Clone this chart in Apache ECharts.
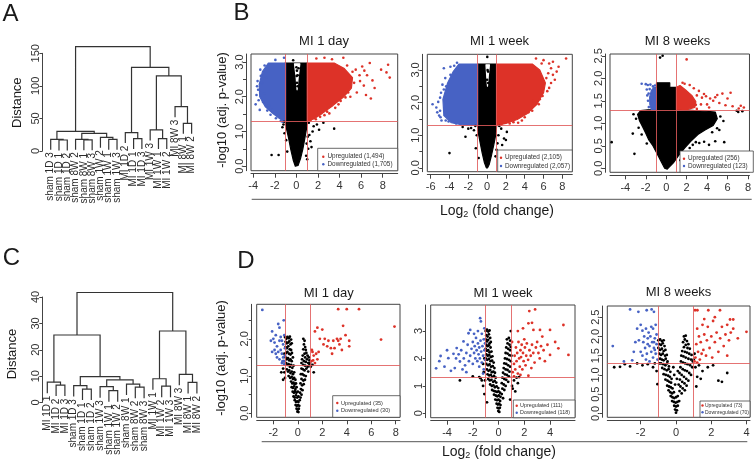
<!DOCTYPE html>
<html><head><meta charset="utf-8">
<script src="https://cdn.jsdelivr.net/npm/echarts@6.0.0/dist/echarts.min.js"></script>
<style>html,body{margin:0;padding:0;background:#fff;}#chart{width:754px;height:461px;}</style>
</head><body><div id="chart"></div>
<script>
// ================= DATA =================
// Dendrogram A (merge rows: [childA, childB, height]; negative = leaf number)
const dendroALeaves = ['sham 1D 3','sham 1D 1','sham 1D 2','sham 8W 2','sham 8W 1','sham 8W 3','sham 1W 2','sham 1W 1','sham 1W 3','MI 1D 2','MI 1D 1','MI 1D 3','MI 1W 3','MI 1W 1','MI 1W 2','MI 8W 3','MI 8W 1','MI 8W 2'];
const dendroAMerges = [[-2,-3,16.9],[-1,1,17.9],[-5,-6,17.0],[-4,3,18.0],[-8,-9,17.9],[-7,5,21.0],[4,6,27.2],[2,7,30.2],[-11,-12,19.0],[-10,9,28.2],[-14,-15,19.0],[-13,11,32.3],[-17,-18,42.5],[-16,13,68.0],[12,14,115.2],[10,15,128.5],[8,16,160.2]];
const dendroATicks = [0,50,100,150];
// Dendrogram C
const dendroCLeaves = ['MI 1D 1','MI 1D 2','MI 1D 3','sham 1D 3','sham 1D 1','sham 1D 2','sham 1W 3','sham 1W 1','sham 1W 2','sham 8W 1','sham 8W 2','sham 8W 3','MI 1W 1','MI 1W 2','MI 1W 3','MI 8W 3','MI 8W 1','MI 8W 2'];
const dendroCMerges = [[-2,-3,6.6],[-1,1,7.7],[-5,-6,5.1],[-4,3,6.4],[-8,-9,4.5],[-7,5,6.0],[-11,-12,5.8],[-10,7,7.0],[6,8,8.6],[4,9,9.8],[2,10,25.6],[-14,-15,6.2],[-13,12,9.0],[-17,-18,7.6],[-16,14,10.7],[13,15,27.1],[11,16,41.7]];
const dendroCTicks = [0,10,20,30,40];

// thresholds
const foldCut = [-1, 1];
const pCut = 1.3;

// ---- B1: MI 1 day (all genes) ----
const b1BlackArea = [[-1.05,2.97],[1.0,2.97],[1.02,1.3],[0.92,1.05],[0.78,0.8],[0.6,0.5],[0.38,0.22],[0.15,0.02],[-0.1,0.0],[-0.3,0.18],[-0.52,0.48],[-0.72,0.8],[-0.9,1.05],[-1.05,1.3]];
const b1Gap = [[-0.18,2.95],[0.32,2.95],[0.16,2.55],[0.06,2.2],[-0.02,2.55]];
const b1BlueArea = [[-1.0,2.97],[-2.6,2.97],[-3.15,2.72],[-3.45,2.35],[-3.4,2.0],[-2.9,1.72],[-2.2,1.52],[-1.6,1.38],[-1.2,1.3],[-1.0,1.3]];
const b1RedArea = [[1.0,2.97],[3.5,2.97],[4.4,2.82],[5.2,2.55],[5.1,2.25],[4.4,2.0],[3.4,1.75],[2.4,1.52],[1.6,1.36],[1.0,1.3]];
const b1Black = [[-2.3,0.32],[-1.65,0.32],[3.5,1.08],[1.9,1.2],[1.5,1.0],[1.3,0.72],[1.1,0.5],[1.2,0.9],[-1.2,1.2],[-1.1,0.95],[2.5,1.25],[1.6,1.15],[0.9,0.3],[-0.85,0.42],[1.0,0.2],[2.1,1.05],[1.4,0.55],[-1.3,1.12],[0.95,0.65],[0.0,2.85],[0.12,2.62],[0.05,2.75],[0.05,2.4],[0.2,2.82],[0.1,2.3],[0.02,2.6],[1.15,1.25],[-1.15,1.28],[1.05,0.85],[-0.95,0.75],[-0.3,3.05]];
const b1Blue = [[-3.7,2.05],[-3.78,1.78],[-3.6,2.45],[-3.35,2.78],[-2.95,2.9],[-3.55,2.2],[-3.4,1.62],[-3.1,1.85],[-2.7,1.6],[-2.4,1.48],[-1.9,1.38],[-1.45,1.3],[-1.15,3.12],[-1.95,3.06],[-2.8,2.55],[-3.2,2.4],[-3.0,2.1],[-2.55,1.75],[-3.5,1.9],[-3.3,2.6],[-3.65,2.3],[-2.2,1.62],[-1.7,1.45],[-1.3,1.28]];
const b1Red = [[8.5,2.92],[8.35,2.7],[8.65,2.55],[7.85,2.78],[6.8,2.97],[6.1,2.87],[6.55,2.62],[7.05,2.47],[6.25,2.32],[5.85,2.62],[5.6,2.12],[6.9,1.95],[5.35,2.4],[4.8,2.12],[4.1,1.88],[3.6,1.68],[2.85,1.57],[2.2,1.42],[1.85,3.1],[2.6,3.12],[3.3,3.08],[4.35,3.12],[5.5,2.78],[7.25,2.25],[6.45,2.05],[4.55,1.98],[3.05,1.52],[1.8,1.35],[5.9,2.45],[5.2,2.72],[4.7,2.9],[6.3,2.75],[5.0,2.0],[3.9,1.78],[1.3,1.32],[2.6,1.47]];

// ---- B2: MI 1 week (all genes) ----
const b2BlackArea = [[-1.0,3.18],[1.0,3.18],[1.02,1.3],[0.92,1.02],[0.72,0.72],[0.48,0.4],[0.22,0.1],[0.05,0.0],[-0.08,0.0],[-0.28,0.15],[-0.52,0.45],[-0.76,0.8],[-0.95,1.1],[-1.02,1.3]];
const b2Gap = [[-0.12,3.16],[0.25,3.16],[0.12,2.8],[0.04,2.5],[-0.04,2.8]];
const b2BlueArea = [[-1.0,3.18],[-3.0,3.18],[-3.6,2.95],[-4.2,2.6],[-4.7,2.1],[-4.6,1.6],[-3.8,1.38],[-2.5,1.31],[-1.0,1.3]];
const b2RedArea = [[1.0,3.18],[4.8,3.18],[5.6,3.0],[6.2,2.6],[6.0,2.3],[5.3,1.95],[4.2,1.65],[3.2,1.48],[2.0,1.36],[1.0,1.3]];
const b2Black = [[-4.0,0.45],[-2.3,0.95],[-2.6,1.25],[1.5,1.2],[1.1,0.75],[-1.4,1.15],[1.8,0.9],[1.3,0.5],[-1.2,0.6],[2.1,1.1],[1.2,1.0],[-1.7,1.22],[0.9,0.35],[-0.9,0.3],[1.6,0.7],[-1.1,1.0],[2.0,0.85],[0.02,3.4],[0.1,2.95],[0.0,2.7],[0.12,2.6],[0.05,3.0],[-1.25,1.28],[1.3,1.28],[-2.0,1.2],[1.0,0.55]];
const b2Blue = [[-4.6,3.05],[-5.8,1.95],[-5.2,2.02],[-5.0,1.75],[-4.9,2.3],[-4.45,2.75],[-3.9,3.1],[-3.5,3.13],[-5.1,1.6],[-4.85,1.45],[-4.4,1.45],[-4.35,2.5],[-3.2,3.22],[-5.4,1.85],[-3.3,1.36],[-2.0,1.32],[-4.75,2.55],[-5.3,1.7],[-4.95,1.55],[-3.9,2.85],[-4.1,1.42],[-2.8,1.34],[-5.0,2.15],[-4.6,2.4]];
const b2Red = [[8.4,3.35],[7.0,3.25],[6.6,3.2],[5.2,3.35],[6.5,2.9],[7.0,2.85],[6.8,2.6],[7.2,2.7],[6.6,2.45],[5.6,2.1],[4.8,1.75],[3.7,1.45],[2.8,1.4],[6.8,3.05],[7.6,3.1],[5.9,2.2],[4.9,2.05],[6.3,2.75],[4.0,1.55],[3.3,1.38],[6.0,3.3],[7.4,2.95],[6.4,2.35],[5.5,1.95],[4.4,1.7],[2.4,1.36],[5.8,3.2],[1.5,1.32]];

// ---- B3: MI 8 weeks (all genes) ----
const b3BlackArea = [[-1.0,1.3],[-1.0,1.8],[-0.95,1.8],[-0.95,1.9],[0.35,1.9],[0.35,1.8],[1.0,1.8],[1.0,1.3],[1.9,1.3],[2.8,1.28],[3.8,1.27],[4.8,1.25],[5.0,1.1],[4.6,0.95],[3.8,0.85],[3.1,0.75],[2.4,0.6],[1.8,0.45],[1.2,0.28],[0.7,0.12],[0.1,-0.02],[-0.15,0.0],[-0.5,0.15],[-0.9,0.33],[-1.3,0.5],[-1.7,0.63],[-2.0,0.78],[-2.3,0.92],[-2.6,1.05],[-2.8,1.2],[-2.5,1.28],[-1.8,1.3]];
const b3BlueArea = [[-1.0,1.3],[-1.0,1.78],[-1.2,1.8],[-1.45,1.73],[-1.62,1.58],[-1.6,1.42],[-1.45,1.3]];
const b3RedArea = [[1.0,1.3],[1.0,1.8],[1.35,1.84],[1.9,1.74],[2.5,1.62],[2.9,1.48],[2.8,1.35],[2.1,1.31]];
const b3Black = [[-5.34,0.58],[-3.11,0.32],[-3.27,0.77],[3.24,0.56],[3.71,0.59],[4.19,0.52],[4.98,0.89],[5.68,0.58],[2.6,0.52],[2.9,0.58],[2.3,0.45],[1.6,0.3],[1.4,0.18],[-0.6,2.46],[-0.35,2.5],[6.9,1.28],[7.05,1.25],[7.45,1.27],[5.3,1.15],[5.6,1.05],[-2.95,1.1],[-3.2,1.2],[-2.7,0.9],[4.5,0.8],[4.8,0.6],[5.2,0.85],[-2.4,0.75],[-1.9,0.55],[2.0,0.35]];
const b3Blue = [[-2.4,1.88],[-2.0,1.87],[-1.8,1.85],[-1.55,1.86],[-1.3,1.82],[-1.72,1.66],[-1.78,1.5],[-1.7,1.36],[-1.62,1.76],[-1.9,1.75],[-1.85,1.62],[-1.1,1.84]];
const b3Red = [[2.0,2.42],[1.6,1.9],[2.3,1.85],[3.0,1.62],[3.5,1.57],[3.9,1.6],[4.3,1.55],[4.8,1.58],[5.0,1.63],[5.5,1.66],[6.0,1.55],[6.5,1.38],[7.1,1.33],[7.3,1.39],[7.6,1.35],[5.2,1.45],[4.0,1.42],[3.4,1.42],[3.7,1.65],[4.6,1.5],[6.3,1.68],[2.9,1.41],[3.2,1.72],[2.7,1.78],[4.2,1.35],[5.8,1.4],[3.0,1.32],[1.8,1.88]];

// ---- D1: MI 1 day (subset) ----
const d1Black = [[-1.05,2.05],[-0.95,2.0],[-0.85,2.05],[-0.75,2.02],[-0.65,2.06],[-0.55,1.98],[-1.0,1.92],[-0.9,1.88],[-0.8,1.9],[-0.7,1.93],[-0.6,1.85],[-0.5,1.88],[-1.0,1.78],[-0.9,1.75],[-0.78,1.8],[-0.66,1.72],[-0.55,1.7],[-0.95,1.62],[-0.85,1.65],[-0.72,1.6],[-0.6,1.58],[-0.48,1.62],
 [-1.0,1.5],[-0.9,1.45],[-0.8,1.48],[-0.7,1.42],[-0.6,1.45],[-0.5,1.4],[-0.4,1.5],[-0.95,1.35],[-0.85,1.3],[-0.75,1.32],[-0.65,1.25],[-0.55,1.3],[-0.45,1.22],[-0.35,1.28],[-0.9,1.18],[-0.8,1.12],[-0.7,1.15],[-0.6,1.08],[-0.5,1.12],[-0.4,1.05],[-0.3,1.1],[-0.75,1.0],[-0.62,0.95],[-0.5,0.98],[-0.4,0.92],[-0.3,0.95],[-0.2,0.9],
 [-0.55,0.85],[-0.45,0.8],[-0.35,0.82],[-0.25,0.78],[-0.15,0.8],[-0.5,0.7],[-0.4,0.68],[-0.3,0.72],[-0.2,0.65],[-0.1,0.7],[-0.42,0.58],[-0.32,0.55],[-0.22,0.6],[-0.12,0.55],[0.0,0.58],[-0.35,0.45],[-0.25,0.42],[-0.15,0.48],[-0.05,0.42],[0.05,0.45],
 [-0.25,0.35],[-0.15,0.3],[-0.05,0.32],[0.05,0.3],[0.15,0.35],[-0.18,0.22],[-0.08,0.2],[0.02,0.22],[0.12,0.2],[-0.1,0.12],[0.0,0.1],[0.08,0.12],[-0.03,0.04],[0.05,0.03],
 [0.45,2.0],[0.55,1.95],[0.5,1.85],[0.6,1.78],[0.65,1.7],[0.45,1.72],[0.7,1.62],[0.55,1.6],[0.8,1.55],[0.9,1.5],[0.4,1.55],[0.6,1.5],[0.75,1.45],[0.95,1.42],[0.35,1.45],[0.5,1.4],[0.65,1.38],[0.85,1.35],[0.3,1.35],[0.45,1.3],[0.6,1.28],[0.8,1.25],[0.95,1.3],[0.3,1.2],[0.42,1.18],[0.55,1.15],[0.7,1.2],[0.85,1.12],[0.25,1.05],[0.38,1.05],[0.5,1.02],[0.65,1.0],[0.3,0.92],[0.45,0.88],[0.58,0.9],[0.22,0.8],[0.35,0.75],[0.48,0.78],[0.25,0.65],[0.38,0.62],[0.18,0.55],[0.3,0.5],[0.22,0.42],
 [-1.1,1.1],[-1.2,1.2],[-1.05,0.95],[-1.35,1.1],[1.3,1.1],[1.2,1.3],[1.05,1.25],[1.0,1.35],[-1.15,1.4],[-1.1,1.6],[-1.2,0.9]];
const d1Blue = [[-2.9,2.78],[-1.8,2.1],[-2.0,2.0],[-1.9,1.9],[-2.1,2.2],[-1.6,2.4],[-1.5,2.3],[-1.7,1.8],[-1.5,1.95],[-1.3,1.95],[-1.2,1.85],[-2.1,1.65],[-1.8,1.6],[-1.6,1.65],[-1.4,1.7],[-1.3,1.6],[-1.5,1.45],[-1.2,1.5],[-1.1,1.4],[-1.3,1.35],[-1.1,2.1],[-1.15,2.5],[-1.05,1.75],[-1.4,2.05],[-1.7,1.5],[-1.9,1.7],[-1.25,1.4],[-1.05,1.55],[-2.2,1.95],[-1.1,1.32]];
const d1Red = [[1.2,1.65],[1.3,1.55],[1.5,1.6],[1.6,1.45],[1.7,1.65],[1.25,1.42],[1.4,2.2],[1.6,2.3],[2.0,2.25],[2.2,2.0],[2.1,1.85],[2.4,1.8],[2.5,1.95],[2.7,1.75],[2.9,1.95],[3.0,1.75],[3.2,2.0],[3.3,1.95],[3.4,1.85],[3.6,1.7],[3.7,2.35],[3.9,2.1],[3.3,2.8],[4.0,2.8],[5.0,2.8],[4.2,1.95],[4.2,1.8],[6.8,1.98],[7.9,2.33],[1.1,1.4],[1.15,1.7],[1.8,2.0],[2.8,1.6],[3.5,2.0],[1.4,1.35]];

// ---- D2: MI 1 week (subset) ----
const d2Black = [[-1.0,3.0],[-0.9,3.05],[-0.8,2.98],[-0.7,3.02],[-0.95,2.85],[-0.85,2.8],[-0.75,2.88],[-0.65,2.75],[-1.0,2.7],[-0.9,2.62],[-0.8,2.68],[-0.7,2.55],[-0.6,2.6],[-0.95,2.5],[-0.85,2.45],[-0.75,2.48],[-0.62,2.4],
 [-1.0,2.35],[-0.9,2.28],[-0.8,2.3],[-0.7,2.22],[-0.55,2.25],[-0.95,2.15],[-0.85,2.1],[-0.72,2.12],[-0.6,2.05],[-0.48,2.08],[-1.0,2.0],[-0.88,1.95],[-0.75,1.98],[-0.62,1.9],[-0.5,1.92],[-0.38,1.85],[-0.95,1.8],[-0.82,1.75],[-0.7,1.78],[-0.58,1.7],[-0.45,1.72],[-0.32,1.65],[-0.9,1.6],[-0.78,1.55],[-0.65,1.58],[-0.52,1.5],[-0.4,1.52],[-0.28,1.48],
 [-0.85,1.42],[-0.72,1.38],[-0.6,1.4],[-0.48,1.33],[-0.35,1.36],[-0.22,1.3],[-0.8,1.25],[-0.68,1.2],[-0.55,1.22],[-0.42,1.15],[-0.3,1.18],[-0.18,1.12],[-0.65,1.05],[-0.52,1.0],[-0.4,1.02],[-0.28,0.95],[-0.15,0.98],[-0.02,0.92],[-0.5,0.85],[-0.38,0.82],[-0.25,0.8],[-0.12,0.78],[0.0,0.8],[0.12,0.75],[-0.35,0.68],[-0.22,0.65],[-0.1,0.62],[0.02,0.65],[0.15,0.6],
 [-0.25,0.5],[-0.12,0.48],[0.0,0.5],[0.12,0.45],[-0.15,0.35],[-0.05,0.32],[0.05,0.35],[0.15,0.3],[-0.08,0.2],[0.02,0.18],[0.1,0.2],[-0.02,0.08],[0.06,0.05],
 [0.65,2.7],[0.8,2.75],[0.9,2.65],[0.7,2.55],[0.85,2.5],[0.95,2.42],[0.6,2.4],[0.75,2.35],[0.9,2.3],[0.55,2.2],[0.7,2.18],[0.85,2.12],[1.0,2.1],[0.5,2.0],[0.65,1.98],[0.8,1.95],[0.95,1.9],[0.45,1.82],[0.6,1.8],[0.75,1.75],[0.9,1.7],[0.4,1.65],[0.55,1.6],[0.7,1.58],[0.85,1.52],[0.35,1.48],[0.5,1.42],[0.65,1.4],[0.8,1.35],[0.3,1.3],[0.45,1.25],[0.6,1.22],[0.75,1.15],[0.25,1.1],[0.4,1.05],[0.55,1.0],[0.3,0.9],[0.45,0.85],[0.25,0.7],[0.35,0.55],
 [-3.0,1.2],[-2.0,1.35],[-1.5,1.32],[-1.3,1.2],[-1.2,1.0],[-1.1,0.7],[1.2,1.2],[1.4,1.3],[1.1,0.9],[1.5,1.1],[0.9,0.5],[-0.9,0.4],[1.3,0.8],[-1.4,1.28],[1.6,1.32],[-1.15,1.5],[-1.1,2.0],[-1.2,1.8],[0.95,3.0],[1.05,1.0],[-1.05,1.2]];
const d2Blue = [[-4.85,1.64],[-4.5,2.09],[-3.9,2.01],[-3.5,2.17],[-3.25,2.38],[-3.0,1.89],[-2.72,2.62],[-2.33,2.92],[-2.2,3.04],[-1.43,3.47],[-1.37,3.35],[-4.6,1.9],[-4.2,1.7],[-3.7,1.55],[-3.3,2.0],[-3.1,2.15],[-2.9,2.3],[-2.7,2.0],[-2.6,1.75],[-2.5,2.2],[-2.4,2.5],[-2.3,1.9],[-2.2,2.1],[-2.1,2.35],[-2.0,2.6],[-2.0,1.8],[-1.9,2.2],[-1.85,2.45],[-1.8,2.0],[-1.75,2.75],[-1.7,2.3],[-1.65,1.9],[-1.6,2.55],[-1.55,2.15],[-1.5,2.4],[-1.5,1.7],[-1.45,2.0],[-1.4,2.65],[-1.35,2.25],[-1.3,1.85],[-1.3,2.9],[-1.25,2.45],[-1.2,2.1],[-1.15,1.6],[-1.15,2.7],[-1.1,2.3],[-1.05,1.95],[-1.05,2.55],[-2.8,1.6],[-3.4,1.65],[-1.6,3.0],[-1.9,2.9],[-2.5,1.5],[-1.2,1.45],[-1.1,3.1],[-4.0,2.3]];
const d2Red = [[2.39,3.73],[2.84,3.79],[2.32,3.28],[2.71,3.04],[3.22,3.04],[4.0,3.04],[5.04,3.22],[4.65,2.37],[5.43,2.13],[4.0,2.13],[2.32,1.37],[1.1,1.5],[1.2,1.8],[1.25,2.1],[1.3,1.6],[1.35,2.4],[1.4,1.9],[1.45,2.2],[1.5,1.45],[1.55,2.6],[1.6,2.0],[1.65,1.7],[1.7,2.3],[1.75,2.05],[1.8,2.5],[1.85,1.6],[1.9,2.2],[1.95,1.9],[2.0,2.7],[2.05,2.4],[2.1,1.75],[2.15,2.1],[2.2,2.55],[2.3,1.95],[2.4,2.3],[2.5,2.1],[2.55,1.65],[2.6,2.5],[2.7,2.2],[2.8,1.85],[2.9,2.4],[3.0,2.6],[3.1,2.2],[3.2,2.0],[3.3,2.45],[3.5,2.3],[3.6,1.9],[3.8,2.5],[1.2,1.35],[1.05,2.6],[1.5,3.0],[1.9,3.1],[3.4,2.8],[1.7,1.4],[4.4,2.6],[2.6,3.3]];

// ---- D3: MI 8 weeks (subset) ----
const d3Black = [[-1.0,1.9],[-0.9,1.92],[-0.8,1.88],[-0.7,1.9],[-0.95,1.8],[-0.85,1.78],[-0.75,1.82],[-0.65,1.75],[-1.0,1.7],[-0.9,1.65],[-0.8,1.68],[-0.7,1.62],[-0.6,1.65],[-0.95,1.55],[-0.85,1.52],[-0.75,1.55],[-0.62,1.5],[-0.52,1.52],[-0.9,1.42],[-0.8,1.4],[-0.7,1.38],[-0.58,1.42],[-0.48,1.35],[-0.85,1.3],[-0.72,1.28],[-0.6,1.25],[-0.5,1.3],[-0.4,1.22],[-0.78,1.18],[-0.65,1.15],[-0.52,1.12],[-0.42,1.15],[-0.32,1.08],
 [-0.7,1.02],[-0.58,1.0],[-0.45,0.98],[-0.35,0.95],[-0.25,0.9],[-0.6,0.88],[-0.48,0.85],[-0.38,0.82],[-0.28,0.8],[-0.5,0.72],[-0.4,0.7],[-0.3,0.68],[-0.2,0.65],[-0.42,0.6],[-0.32,0.55],[-0.22,0.52],[-0.12,0.55],
 [-0.3,0.45],[-0.2,0.42],[-0.1,0.4],[0.0,0.42],[0.1,0.45],[-0.22,0.32],[-0.12,0.3],[-0.02,0.28],[0.08,0.3],[0.18,0.32],[-0.1,0.2],[0.0,0.18],[0.1,0.2],[-0.05,0.1],[0.05,0.08],[0.0,0.02],
 [0.45,2.0],[0.55,2.02],[0.5,1.92],[0.62,1.88],[0.4,1.85],[0.7,1.8],[0.55,1.78],[0.45,1.72],[0.65,1.7],[0.78,1.68],[0.35,1.62],[0.5,1.6],[0.62,1.58],[0.75,1.55],[0.88,1.52],[0.3,1.5],[0.42,1.48],[0.55,1.45],[0.7,1.42],[0.85,1.4],[0.95,1.35],[0.28,1.35],[0.4,1.32],[0.52,1.3],[0.65,1.28],[0.8,1.25],[0.92,1.2],[0.25,1.2],[0.38,1.15],[0.5,1.12],[0.62,1.1],[0.75,1.05],[0.85,1.0],[0.2,1.05],[0.32,1.0],[0.45,0.95],[0.58,0.9],[0.7,0.85],[0.22,0.88],[0.35,0.82],[0.48,0.78],[0.6,0.72],[0.25,0.7],[0.38,0.65],[0.5,0.6],[0.2,0.58],[0.32,0.52],
 [-0.1,1.0],[0.05,0.9],[0.1,1.1],[-0.15,1.2],[0.15,0.75],[-0.05,0.75],
 [-3.5,1.2],[-3.17,1.21],[-2.9,1.28],[-2.6,1.22],[-2.2,1.3],[-1.9,1.25],[-1.6,1.28],[-1.3,1.2],[-1.2,1.3],[-1.1,1.1],[-1.05,0.76],[1.1,1.2],[1.3,1.25],[1.5,1.1],[1.8,1.2],[2.1,1.25],[2.4,0.85],[2.9,1.05],[2.6,0.82],[1.2,0.95],[1.0,1.4],[1.05,1.55],[-0.95,1.3],[1.15,0.7],[1.4,0.9]];
const d3Blue = [[-3.58,1.75],[-2.6,2.70],[-2.13,2.64],[-1.66,2.68],[-1.38,2.70],[-1.25,2.64],[-2.39,1.6],[-2.48,1.38],[-2.95,1.35],[-2.2,2.2],[-2.1,1.9],[-2.0,1.6],[-1.9,2.15],[-1.85,1.85],[-1.8,2.0],[-1.75,1.7],[-1.7,2.2],[-1.65,1.55],[-1.6,1.95],[-1.55,2.1],[-1.5,1.75],[-1.45,2.0],[-1.4,1.6],[-1.35,1.85],[-1.3,2.2],[-1.3,1.45],[-1.25,1.7],[-1.2,1.95],[-1.15,1.55],[-1.1,1.8],[-1.1,2.05],[-1.05,1.4],[-2.3,1.85],[-2.0,2.3],[-1.7,1.4],[-1.5,1.35],[-1.2,1.65],[-1.9,1.5],[-1.6,1.8],[-1.4,2.25],[-1.25,1.85],[-1.15,2.3]];
const d3Red = [[1.08,2.68],[1.21,2.68],[1.83,2.68],[2.49,2.68],[3.06,2.44],[3.24,2.44],[3.99,2.12],[3.24,2.2],[1.1,1.45],[1.15,1.8],[1.2,2.2],[1.25,1.6],[1.3,2.0],[1.35,1.4],[1.4,1.85],[1.5,2.3],[1.55,1.65],[1.6,2.05],[1.7,1.5],[1.75,1.9],[1.8,2.25],[1.9,1.7],[2.0,2.0],[2.05,1.45],[2.1,2.4],[2.2,1.85],[2.3,2.1],[2.4,1.6],[2.5,1.95],[2.6,2.25],[2.7,1.75],[2.8,2.05],[2.9,1.5],[3.0,1.9],[3.1,2.1],[2.2,2.5],[1.6,2.45],[1.05,1.35],[1.2,1.32],[2.9,2.3],[3.5,1.95],[1.45,1.55]];

// legend counts
const legendB = [['Upregulated (1,494)','Downregulated (1,705)'],['Upregulated (2,105)','Downregulated (2,057)'],['Upregulated (256)','Downregulated (123)']];
const legendD = [['Upregulated (35)','Downregulated (30)'],['Upregulated (111)','Downregulated (118)'],['Upregulated (73)','Downregulated (70)']];

// ================= RENDER =================
const FONT = '"Liberation Sans", Arial, Helvetica, sans-serif';
const RED = '#dd3228', BLUE = '#4762c4', BLACK = '#000000', REF = '#e05a5a', AXIS = '#444', TXT = '#2a2a2a';
const grids = [], xAxes = [], yAxes = [], series = [], graphics = [];

function addDendro(cfg) {
  const gi = grids.length;
  grids.push({left: cfg.left, top: cfg.top, width: cfg.width, height: cfg.height, show: false});
  xAxes.push({type: 'value', gridIndex: gi, min: cfg.xmin, max: cfg.xmax, show: false});
  const t = cfg.ticks;
  yAxes.push({type: 'value', gridIndex: gi, min: t[0], max: t[t.length - 1], interval: t[1] - t[0],
    axisLine: {show: true, lineStyle: {color: AXIS, width: 1}},
    axisTick: {show: true, length: 3, lineStyle: {color: AXIS}},
    axisLabel: {rotate: 90, margin: 1, fontSize: 11, color: '#333', fontFamily: FONT},
    splitLine: {show: false}});
  const leaves = cfg.leaves, merges = cfg.merges;
  const nodes = [];
  merges.forEach(m => {
    const xa = m[0] < 0 ? -m[0] : nodes[m[0] - 1].x;
    const xb = m[1] < 0 ? -m[1] : nodes[m[1] - 1].x;
    nodes.push({x: (xa + xb) / 2, h: m[2]});
  });
  const hang = 0.1 * Math.max(...merges.map(m => m[2]));
  series.push({type: 'custom', xAxisIndex: gi, yAxisIndex: gi, silent: true, animation: false,
    data: nodes.map(n => [n.x, n.h]),
    renderItem: (params, api) => {
      const m = merges[params.dataIndex];
      const h = m[2];
      const ch = [m[0], m[1]].map(c => c < 0 ? {x: -c, y: h - hang, leaf: -c - 1} : {x: nodes[c - 1].x, y: nodes[c - 1].h, leaf: -1});
      const pa = api.coord([ch[0].x, ch[0].y]);
      const pa2 = api.coord([ch[0].x, h]);
      const pb2 = api.coord([ch[1].x, h]);
      const pb = api.coord([ch[1].x, ch[1].y]);
      const els = [{type: 'polyline', shape: {points: [pa, pa2, pb2, pb]}, style: {stroke: '#333', lineWidth: 1.2, fill: 'none'}}];
      ch.forEach((c, k) => {
        if (c.leaf >= 0) {
          const p = k === 0 ? pa : pb;
          els.push({type: 'text', x: p[0], y: p[1] + 2.5, rotation: Math.PI / 2,
            style: {text: leaves[c.leaf], fill: TXT, fontSize: cfg.fs, fontFamily: FONT, align: 'right', verticalAlign: 'middle'}});
        }
      });
      return {type: 'group', children: els};
    }});
}

function areaSeries(gi, pts, color) {
  return {type: 'custom', xAxisIndex: gi, yAxisIndex: gi, silent: true, animation: false, z: 2, data: pts,
    renderItem: (params, api) => params.dataIndex === 0 ? {type: 'polygon',
      shape: {points: pts.map(p => api.coord(p))},
      style: {fill: color, stroke: color, lineWidth: 1.2, lineJoin: 'round'}} : null};
}
function dots(gi, pts, color, size) {
  return {type: 'scatter', xAxisIndex: gi, yAxisIndex: gi, data: pts, symbolSize: size, silent: true, animation: false, z: 2,
    itemStyle: {color: color, opacity: 1}};
}

function addVolcano(p) {
  const gi = grids.length;
  grids.push({left: p.box[0], top: p.box[1], width: p.box[2], height: p.box[3], show: true, borderColor: '#444', borderWidth: 1, backgroundColor: 'rgba(0,0,0,0)'});
  xAxes.push({type: 'value', gridIndex: gi, min: p.xr[0], max: p.xr[1], offset: 3,
    axisLine: {show: true, onZero: false, lineStyle: {color: AXIS}},
    axisTick: {show: true, length: 4, customValues: p.xt, lineStyle: {color: AXIS}},
    axisLabel: {customValues: p.xt, margin: 7, fontSize: 11, color: '#333', fontFamily: FONT},
    splitLine: {show: false}});
  yAxes.push({type: 'value', gridIndex: gi, min: p.yr[0], max: p.yr[1], offset: 5,
    axisLine: {show: true, onZero: false, lineStyle: {color: AXIS}},
    axisTick: {show: true, length: 3, customValues: p.yt, lineStyle: {color: AXIS}},
    axisLabel: {customValues: p.yl, rotate: 90, margin: 1, fontSize: 11, color: '#333', fontFamily: FONT,
      formatter: v => p.ydec ? Number(v).toFixed(1) : String(v)},
    splitLine: {show: false}});
  (p.blackAreas || []).forEach(a => series.push(areaSeries(gi, a, BLACK)));
  if (p.gap) series.push(areaSeries(gi, p.gap, '#ffffff'));
  series.push(dots(gi, p.black, BLACK, p.ps));
  if (p.blueArea) series.push(areaSeries(gi, p.blueArea, BLUE));
  series.push(dots(gi, p.blue, BLUE, p.ps));
  if (p.redArea) series.push(areaSeries(gi, p.redArea, RED));
  series.push(dots(gi, p.red, RED, p.ps));
  // reference lines on top
  series.push({type: 'scatter', xAxisIndex: gi, yAxisIndex: gi, data: [], z: 6, silent: true, animation: false,
    markLine: {silent: true, animation: false, symbol: ['none', 'none'], label: {show: false}, z: 6,
      lineStyle: {color: REF, width: 1, type: 'solid', opacity: 0.85},
      data: [{xAxis: foldCut[0]}, {xAxis: foldCut[1]}, {yAxis: pCut}]}});
  const L = p.legend;
  graphics.push({type: 'rect', z: 100, shape: {x: L.box[0], y: L.box[1], width: L.box[2], height: L.box[3]}, style: {fill: '#fff', stroke: '#444', lineWidth: 0.8}});
  [[RED, L.text[0], L.y[0]], [BLUE, L.text[1], L.y[1]]].forEach(([c, t, y]) => {
    graphics.push({type: 'circle', z: 101, shape: {cx: L.dotX, cy: y, r: 1.2}, style: {fill: c}});
    graphics.push({type: 'text', z: 101, x: L.textX, y: y, style: {text: t, fill: '#333', fontSize: L.fs, fontFamily: FONT, align: 'left', verticalAlign: 'middle'}});
  });
}

addDendro({left: 42, top: 53.3, width: 158, height: 97.7, xmin: -0.05, xmax: 19.01, ticks: dendroATicks, leaves: dendroALeaves, merges: dendroAMerges, fs: 10});
addDendro({left: 42.3, top: 297, width: 163.4, height: 105.5, xmin: 0.432, xmax: 19.0, ticks: dendroCTicks, leaves: dendroCLeaves, merges: dendroCMerges, fs: 10});

const stepsB = [0, 0.5, 1, 1.5, 2, 2.5, 3];
addVolcano({box: [251, 54, 146.7, 116.7], xr: [-4.21, 9.39], yr: [-0.13, 3.23], xt: [-4, -2, 0, 2, 4, 6, 8], yt: stepsB, yl: [0, 1, 2, 3], ydec: true, ps: 2.6,
  blackAreas: [b1BlackArea], gap: b1Gap, blueArea: b1BlueArea, redArea: b1RedArea, black: b1Black, blue: b1Blue, red: b1Red,
  legend: {box: [317.7, 148.3, 80, 22.4], dotX: 323.3, textX: 327.5, y: [156.7, 164.3], fs: 6.4, text: legendB[0]}});
addVolcano({box: [427.3, 54.3, 145, 117.4], xr: [-6.36, 9.06], yr: [-0.12, 3.48], xt: [-6, -4, -2, 0, 2, 4, 6, 8], yt: stepsB, yl: [0, 1, 2, 3], ydec: true, ps: 2.6,
  blackAreas: [b2BlackArea], gap: b2Gap, blueArea: b2BlueArea, redArea: b2RedArea, black: b2Black, blue: b2Blue, red: b2Red,
  legend: {box: [497.7, 150, 74.6, 21.7], dotX: 501, textX: 505, y: [157.7, 166], fs: 6.4, text: legendB[1]}});
addVolcano({box: [610, 54, 143.3, 118.3], xr: [-5.5, 8.15], yr: [-0.09, 2.54], xt: [-4, -2, 0, 2, 4, 6, 8], yt: [0, 0.5, 1, 1.5, 2, 2.5], yl: [0, 0.5, 1, 1.5, 2, 2.5], ydec: true, ps: 2.6,
  blackAreas: [b3BlackArea], blueArea: b3BlueArea, redArea: b3RedArea, black: b3Black, blue: b3Blue, red: b3Red,
  legend: {box: [680, 151, 73.3, 21.3], dotX: 684, textX: 688, y: [158.7, 166], fs: 6.4, text: legendB[2]}});
addVolcano({box: [256.7, 304.3, 143.3, 113], xr: [-3.36, 8.35], yr: [-0.11, 2.93], xt: [-2, 0, 2, 4, 6, 8], yt: [0, 0.5, 1, 1.5, 2, 2.5], yl: [0, 1, 2], ydec: true, ps: 2.8,
  black: d1Black, blue: d1Blue, red: d1Red,
  legend: {box: [332.7, 395.7, 67.3, 21.6], dotX: 337.3, textX: 341, y: [403, 410.7], fs: 5.6, text: legendD[0]}});
addVolcano({box: [430.7, 305, 144.3, 112.7], xr: [-5.27, 5.94], yr: [-0.16, 3.95], xt: [-4, -2, 0, 2, 4], yt: [0, 1, 2, 3], yl: [0, 1, 2, 3], ydec: false, ps: 2.8,
  black: d2Black, blue: d2Blue, red: d2Red,
  legend: {box: [513.3, 400, 61.7, 17.7], dotX: 516.7, textX: 520, y: [405.7, 412.7], fs: 5.4, text: legendD[1]}});
addVolcano({box: [607.3, 306, 142.7, 111.3], xr: [-3.89, 4.19], yr: [-0.10, 2.79], xt: [-2, 0, 2, 4], yt: [0, 0.5, 1, 1.5, 2, 2.5], yl: [0, 0.5, 1, 1.5, 2, 2.5], ydec: true, ps: 2.8,
  black: d3Black, blue: d3Blue, red: d3Red,
  legend: {box: [700, 401, 50, 16.3], dotX: 702.5, textX: 705, y: [405.5, 412.3], fs: 5, text: legendD[2]}});

// texts
function txt(t, x, y, fs, rot, extra) {
  const e = {type: 'text', x: x, y: y, z: 50, style: Object.assign({text: t, fill: '#1a1a1a', fontSize: fs, fontFamily: FONT, align: 'center', verticalAlign: 'middle'}, extra || {})};
  if (rot) e.rotation = rot;
  graphics.push(e);
}
txt('A', 10.5, 14, 24); txt('B', 241.5, 13.5, 24); txt('C', 11.5, 258.5, 24); txt('D', 246, 261.5, 24);
txt('MI 1 day', 324, 41.7, 13); txt('MI 1 week', 499.5, 41.7, 13); txt('MI 8 weeks', 677.5, 41, 13);
txt('MI 1 day', 328.7, 293, 13); txt('MI 1 week', 503, 293, 13); txt('MI 8 weeks', 678.5, 292.7, 13);
txt('Distance', 17.5, 102.7, 13, Math.PI / 2); txt('Distance', 12.5, 354, 13, Math.PI / 2);
txt('-log10 (adj. p-value)', 222.5, 110, 13, Math.PI / 2); txt('-log10 (adj. p-value)', 221.5, 358, 13, Math.PI / 2);
const logRich = {a: {fontSize: 14, fontFamily: FONT, fill: '#1a1a1a', lineHeight: 16, verticalAlign: 'middle'}, s: {fontSize: 9, fontFamily: FONT, fill: '#1a1a1a', lineHeight: 9, verticalAlign: 'bottom'}};
txt('{a|Log}{s|2}{a| (fold change)}', 497, 211, 14, 0, {rich: logRich});
txt('{a|Log}{s|2}{a| (fold change)}', 499, 452, 14, 0, {rich: logRich});
graphics.push({type: 'line', z: 50, shape: {x1: 251.7, y1: 199.3, x2: 751.7, y2: 199.3}, style: {stroke: '#555', lineWidth: 1}});
graphics.push({type: 'line', z: 50, shape: {x1: 261.7, y1: 441.7, x2: 747.3, y2: 441.7}, style: {stroke: '#555', lineWidth: 1}});

const chart = echarts.init(document.getElementById('chart'), null, {renderer: 'canvas'});
chart.setOption({animation: false, backgroundColor: '#fff', grid: grids, xAxis: xAxes, yAxis: yAxes, series: series, graphic: {elements: graphics}});
</script></body></html>
